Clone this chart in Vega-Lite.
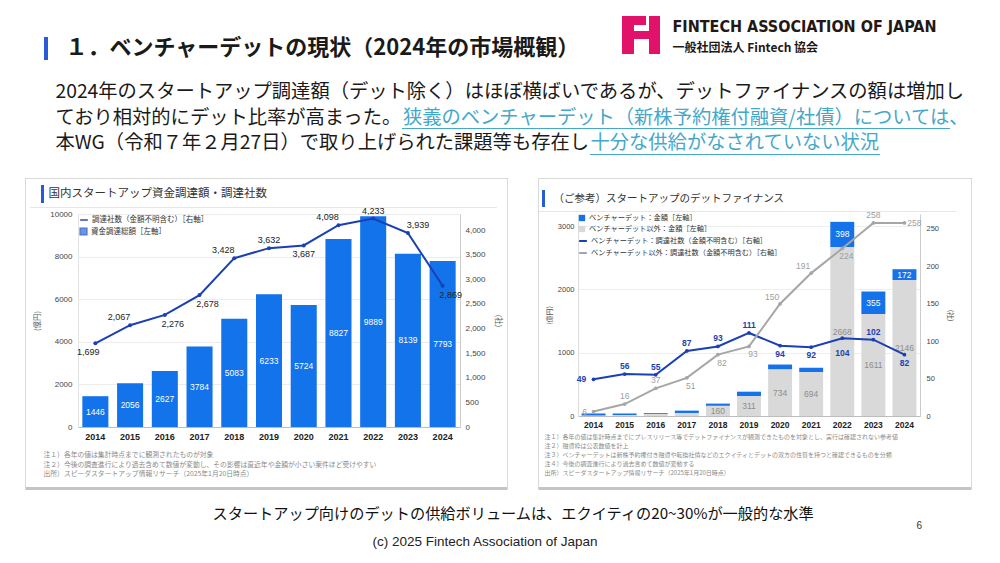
{
"$schema":"https://vega.github.io/schema/vega-lite/v6.json",
"background":"white","padding":0,
"config":{"view":{"stroke":null},"font":"Noto Sans CJK JP","concat":{"spacing":0},"axis":{"labelFont":"Liberation Sans","titleFont":"Noto Sans CJK JP"},"legend":{"labelFont":"Noto Sans CJK JP","labelLimit":300,"layout":{"top-left":{"direction":"vertical","margin":3}}}},
"bounds":"flush","spacing":0,
"resolve":{"scale":{"color":"independent","fill":"independent","stroke":"independent"},"legend":{"color":"independent","fill":"independent","stroke":"independent"}},
"vconcat":[
 {"hconcat":[
  {"width":44,"height":68,"data":{"values":[{}]},"mark":{"type":"text","opacity":0}},
  {"vconcat":[
    {"width":4,"height":37,"data":{"values":[{}]},"mark":{"type":"text","opacity":0}},
    {"width":4,"height":23,"data":{"values":[{}]},"mark":{"type":"text","opacity":0},"view":{"fill":"#2a5bd7","stroke":null}}
  ],"bounds":"flush","spacing":0},
  {"width":21,"height":30,"data":{"values":[{}]},"mark":{"type":"text","opacity":0}},
  {"vconcat":[
    {"width":1,"height":37,"data":{"values":[{}]},"mark":{"type":"text","opacity":0}},
    {"width":1,"height":22,"data":{"values":[{"t":"１．ベンチャーデットの現状（2024年の市場概観）"}]},"mark":{"type":"text","align":"left","baseline":"middle","fontSize":22,"fontWeight":"bold","color":"#1a1a1a"},"encoding":{"text":{"field":"t","type":"nominal"}}}
  ],"bounds":"flush","spacing":0},
  {"width":557,"height":30,"data":{"values":[{}]},"mark":{"type":"text","opacity":0}},
  {"vconcat":[
    {"width":1,"height":16,"data":{"values":[{}]},"mark":{"type":"text","opacity":0}},
    {"hconcat":[
      {"width":12,"height":38,"data":{"values":[{}]},"mark":{"type":"text","opacity":0},"view":{"fill":"#e2126a","stroke":null}},
      {"vconcat":[
        {"width":12,"height":9,"data":{"values":[{}]},"mark":{"type":"text","opacity":0},"view":{"fill":"#e2126a","stroke":null}},
        {"width":12,"height":6,"data":{"values":[{}]},"mark":{"type":"text","opacity":0}},
        {"width":12,"height":8,"data":{"values":[{}]},"mark":{"type":"text","opacity":0},"view":{"fill":"#e2126a","stroke":null}}
      ],"bounds":"flush","spacing":0},
      {"width":12,"height":30,"data":{"values":[{}]},"mark":{"type":"text","opacity":0}},
      {"vconcat":[
        {"width":3,"height":15,"data":{"values":[{}]},"mark":{"type":"text","opacity":0}},
        {"width":3,"height":8,"data":{"values":[{}]},"mark":{"type":"text","opacity":0},"view":{"fill":"#e2126a","stroke":null}}
      ],"bounds":"flush","spacing":0},
      {"width":3,"height":30,"data":{"values":[{}]},"mark":{"type":"text","opacity":0}},
      {"width":11,"height":38,"data":{"values":[{}]},"mark":{"type":"text","opacity":0},"view":{"fill":"#e2126a","stroke":null}}
    ],"bounds":"flush","spacing":0}
  ],"bounds":"flush","spacing":0},
  {"width":50,"height":30,"data":{"values":[{}]},"mark":{"type":"text","opacity":0}},
  {"vconcat":[
    {"width":1,"height":15,"data":{"values":[{}]},"mark":{"type":"text","opacity":0}},
    {"width":1,"height":24,"data":{"values":[{"t":"FINTECH ASSOCIATION OF JAPAN"}]},"mark":{"type":"text","align":"left","baseline":"middle","fontSize":16,"fontWeight":"bold","font":"'Liberation Sans Narrow','DejaVu Sans Condensed',sans-serif","color":"#231815"},"encoding":{"text":{"field":"t","type":"nominal"}}},
    {"width":1,"height":17,"data":{"values":[{"t":"一般社団法人 Fintech 協会"}]},"mark":{"type":"text","align":"left","baseline":"middle","fontSize":12,"fontWeight":"bold","color":"#231815"},"encoding":{"text":{"field":"t","type":"nominal"}}}
  ],"bounds":"flush","spacing":0}
 ],"bounds":"flush","spacing":0},
 {"width":1,"height":68,"data":{"values":[{}]},"mark":{"type":"text","opacity":0}},
 {"hconcat":[
  {"width":55,"height":30,"data":{"values":[{}]},"mark":{"type":"text","opacity":0}},
  {"vconcat":[
    {"width":1,"height":24,"data":{"values":[{}]},"mark":{"type":"text","opacity":0}},
    {"hconcat":[
     {"width":1,"height":51,
      "data":{"values":[
        {"line":1,"kind":"normal","t":"2024年のスタートアップ調達額（デット除く）はほぼ横ばいであるが、デットファイナンスの額は増加し"},
        {"line":2,"kind":"normal","t":"ており相対的にデット比率が高まった。"},
        {"line":2,"kind":"link","t":"狭義のベンチャーデット（新株予約権付融資/社債）については、"},
        {"line":3,"kind":"normal","t":"本WG（令和７年２月27日）で取り上げられた課題等も存在し"},
        {"line":3,"kind":"link","t":"十分な供給がなされていない状況"}
      ]},
      "encoding":{
        "y":{"field":"line","type":"ordinal","scale":{"type":"point","padding":0},"axis":null},
        "text":{"field":"t","type":"nominal"}
      },
      "layer":[
        {"transform":[{"filter":"datum.kind == 'normal'"}],"mark":{"type":"text","align":"left","baseline":"middle","fontSize":19.3,"color":"#1a1a1a"}},
        {"transform":[{"filter":"datum.kind == 'link' && datum.line == 2"}],"mark":{"type":"text","align":"left","baseline":"middle","fontSize":19.3,"color":"#45a8c8","dx":347.4}},
        {"transform":[{"filter":"datum.kind == 'link' && datum.line == 3"}],"mark":{"type":"text","align":"left","baseline":"middle","fontSize":19.3,"color":"#45a8c8","dx":535}}
      ]}
    ],"bounds":"flush","spacing":0},
    {"width":1,"height":36,"data":{"values":[{}]},"mark":{"type":"text","opacity":0}},
    {"hconcat":[
      {"width":347,"height":1,"data":{"values":[{}]},"mark":{"type":"text","opacity":0}},
      {"width":548,"height":1,"data":{"values":[{}]},"mark":{"type":"text","opacity":0},"view":{"fill":"#45a8c8","stroke":null}}
    ],"bounds":"flush","spacing":0},
    {"width":1,"height":26,"data":{"values":[{}]},"mark":{"type":"text","opacity":0}},
    {"hconcat":[
      {"width":535,"height":1,"data":{"values":[{}]},"mark":{"type":"text","opacity":0}},
      {"width":290,"height":1,"data":{"values":[{}]},"mark":{"type":"text","opacity":0},"view":{"fill":"#45a8c8","stroke":null}}
    ],"bounds":"flush","spacing":0}
  ],"bounds":"flush","spacing":0}
 ],"bounds":"flush","spacing":0},
 {"width":1,"height":110,"data":{"values":[{}]},"mark":{"type":"text","opacity":0}},
 {"hconcat":[
  {"width":25,"height":30,"data":{"values":[{}]},"mark":{"type":"text","opacity":0}},
  {"vconcat":[
    {"width":483,"height":1,"data":{"values":[{}]},"mark":{"type":"text","opacity":0},"view":{"fill":"#d9d9d9","stroke":null}},
    {"width":1,"height":6,"data":{"values":[{}]},"mark":{"type":"text","opacity":0}},
    {"hconcat":[
      {"width":16,"height":18,"data":{"values":[{}]},"mark":{"type":"text","opacity":0}},
      {"width":3,"height":18,"data":{"values":[{}]},"mark":{"type":"text","opacity":0},"view":{"fill":"#2a5bd7","stroke":null}},
      {"width":4,"height":18,"data":{"values":[{}]},"mark":{"type":"text","opacity":0}},
      {"width":1,"height":18,"data":{"values":[{"t":"国内スタートアップ資金調達額・調達社数"}]},"mark":{"type":"text","align":"left","baseline":"middle","fontSize":11.5,"color":"#333333"},"encoding":{"text":{"field":"t","type":"nominal"}}}
    ],"bounds":"flush","spacing":0},
    {"width":1,"height":22,"data":{"values":[{}]},"mark":{"type":"text","opacity":0}},
    {"hconcat":[
      {"width":5,"height":1,"data":{"values":[{}]},"mark":{"type":"text","opacity":0}},
      {"width":467,"height":1,"data":{"values":[{}]},"mark":{"type":"text","opacity":0},"view":{"fill":"#e6e6e6","stroke":null}}
    ],"bounds":"flush","spacing":0},
    {"width":1,"height":7,"data":{"values":[{}]},"mark":{"type":"text","opacity":0}},
    {"hconcat":[
      {"width":53,"height":1,"data":{"values":[{}]},"mark":{"type":"text","opacity":0}},
      {"width":382,"height":213,
       "data":{"values":[
         {"year":2014,"amt":1446,"cnt":1699},{"year":2015,"amt":2056,"cnt":2067},{"year":2016,"amt":2627,"cnt":2276},
         {"year":2017,"amt":3784,"cnt":2678},{"year":2018,"amt":5083,"cnt":3428},{"year":2019,"amt":6233,"cnt":3632},
         {"year":2020,"amt":5724,"cnt":3687},{"year":2021,"amt":8827,"cnt":4098},{"year":2022,"amt":9889,"cnt":4233},
         {"year":2023,"amt":8139,"cnt":3939},{"year":2024,"amt":7793,"cnt":2869}]},
       "encoding":{"x":{"field":"year","type":"ordinal","scale":{"paddingInner":0.25,"paddingOuter":0.125},
         "axis":{"title":null,"labelAngle":0,"ticks":false,"labelPadding":5,"labelFontSize":9,"labelFontWeight":"bold","labelColor":"#222222","domainColor":"#bdbdbd"}}},
       "layer":[
         {"transform":[{"filter":"false"}],
          "mark":{"type":"point","filled":false},
          "encoding":{
            "color":{"datum":"調達社数（金額不明含む）［右軸］","type":"nominal",
              "legend":{"orient":"top-left","title":null,"symbolType":"stroke","symbolStrokeWidth":2,"symbolSize":60,"offset":1,"padding":0,"labelFontSize":7.5,"labelColor":"#333333","labelOffset":3}},
            "fill":{"datum":"資金調達総額［左軸］","type":"nominal",
              "legend":{"orient":"top-left","title":null,"symbolType":"square","symbolSize":45,"offset":1,"padding":0,"labelFontSize":7.5,"labelColor":"#333333","labelOffset":3}}}},
         {"layer":[
           {"mark":{"type":"bar"},
            "encoding":{
              "y":{"field":"amt","type":"quantitative","scale":{"domain":[0,10000],"nice":false},
                "axis":{"title":"(億円)","values":[0,2000,4000,6000,8000,10000],"format":"d","ticks":false,"labelFontSize":8,"labelColor":"#444444","labelPadding":6,"domainColor":"#e3e3e3","gridColor":"#ececec","titleFontSize":7.5,"titleFontWeight":"normal","titleColor":"#555555","titlePadding":8}},
              "fill":{"datum":"資金調達総額［左軸］","type":"nominal","scale":{"range":["#1273ea"]}}}},
           {"transform":[{"calculate":"datum.amt/2","as":"mid"}],
            "mark":{"type":"text","color":"white","fontSize":8.5,"font":"Liberation Sans"},
            "encoding":{"y":{"field":"mid","type":"quantitative"},"text":{"field":"amt","type":"quantitative","format":"d"}}}
         ]},
         {"encoding":{"y":{"field":"cnt","type":"quantitative","scale":{"domain":[0,4325],"nice":false},
                "axis":{"orient":"right","title":"(社)","values":[0,500,1000,1500,2000,2500,3000,3500,4000],"format":",d","grid":false,"ticks":false,"labelFontSize":8,"labelColor":"#444444","labelPadding":5,"domainColor":"#cccccc","titleFontSize":7.5,"titleFontWeight":"normal","titleColor":"#555555","titlePadding":8}},
                "text":{"field":"cnt","type":"quantitative","format":",d"}},
          "layer":[
           {"mark":{"type":"line","strokeWidth":2,"point":{"filled":true,"size":16}},
            "encoding":{
              "text":null,
              "color":{"datum":"調達社数（金額不明含む）［右軸］","type":"nominal","scale":{"range":["#1b3fb5"]}}}},
           {"transform":[{"filter":{"field":"year","oneOf":[2015,2018,2021]}}],"mark":{"type":"text","dx":-11,"dy":-8,"fontSize":9,"font":"Liberation Sans","color":"#222222"}},
           {"transform":[{"filter":{"field":"year","oneOf":[2019,2022]}}],"mark":{"type":"text","dy":-8,"fontSize":9,"font":"Liberation Sans","color":"#222222"}},
           {"transform":[{"filter":{"field":"year","oneOf":[2023]}}],"mark":{"type":"text","dx":10,"dy":-8,"fontSize":9,"font":"Liberation Sans","color":"#222222"}},
           {"transform":[{"filter":{"field":"year","oneOf":[2014]}}],"mark":{"type":"text","dx":-7,"dy":9,"fontSize":9,"font":"Liberation Sans","color":"#222222"}},
           {"transform":[{"filter":{"field":"year","oneOf":[2016,2017,2024]}}],"mark":{"type":"text","dx":8,"dy":9,"fontSize":9,"font":"Liberation Sans","color":"#222222"}},
           {"transform":[{"filter":{"field":"year","oneOf":[2020]}}],"mark":{"type":"text","dy":9,"fontSize":9,"font":"Liberation Sans","color":"#222222"}}
         ]}
       ],
       "resolve":{"scale":{"y":"independent"}}}
    ],"bounds":"flush","spacing":0,
    "resolve":{"scale":{"color":"independent","fill":"independent","stroke":"independent"},"legend":{"color":"independent","fill":"independent","stroke":"independent"}}},
    {"width":1,"height":241,"data":{"values":[{}]},"mark":{"type":"text","opacity":0}},
    {"hconcat":[
      {"width":18,"height":1,"data":{"values":[{}]},"mark":{"type":"text","opacity":0}},
      {"width":1,"height":19,
       "data":{"values":[
         {"n":1,"t":"注１）各年の値は集計時点までに観測されたものが対象"},
         {"n":2,"t":"注２）今後の調査進行により過去含めて数値が変動し、その影響は直近年や金額が小さい案件ほど受けやすい"},
         {"n":3,"t":"出所）スピーダスタートアップ情報リサーチ（2025年1月20日時点）"}]},
       "mark":{"type":"text","align":"left","baseline":"middle","fontSize":6.8,"color":"#8a8a8a"},
       "encoding":{"y":{"field":"n","type":"ordinal","scale":{"type":"point","padding":0},"axis":null},"text":{"field":"t","type":"nominal"}}}
    ],"bounds":"flush","spacing":0},
    {"width":1,"height":32,"data":{"values":[{}]},"mark":{"type":"text","opacity":0}},
    {"width":483,"height":3,"data":{"values":[{}]},"mark":{"type":"text","opacity":0},"view":{"fill":"#c4c4c4","stroke":null}}
  ],"bounds":"flush","spacing":0,
  "resolve":{"scale":{"color":"independent","fill":"independent","stroke":"independent"},"legend":{"color":"independent","fill":"independent","stroke":"independent"}}},
  {"width":1,"height":312,"data":{"values":[{}]},"mark":{"type":"text","opacity":0},"view":{"fill":"#d9d9d9","stroke":null}},
  {"width":481,"height":30,"data":{"values":[{}]},"mark":{"type":"text","opacity":0}},
  {"width":1,"height":312,"data":{"values":[{}]},"mark":{"type":"text","opacity":0},"view":{"fill":"#d9d9d9","stroke":null}},
  {"width":30,"height":30,"data":{"values":[{}]},"mark":{"type":"text","opacity":0}},
  {"vconcat":[
    {"width":434,"height":1,"data":{"values":[{}]},"mark":{"type":"text","opacity":0},"view":{"fill":"#d9d9d9","stroke":null}},
    {"width":1,"height":11,"data":{"values":[{}]},"mark":{"type":"text","opacity":0}},
    {"hconcat":[
      {"width":4,"height":17,"data":{"values":[{}]},"mark":{"type":"text","opacity":0}},
      {"width":3,"height":17,"data":{"values":[{}]},"mark":{"type":"text","opacity":0},"view":{"fill":"#2a5bd7","stroke":null}},
      {"width":8,"height":17,"data":{"values":[{}]},"mark":{"type":"text","opacity":0}},
      {"width":1,"height":17,"data":{"values":[{"t":"（ご参考）スタートアップのデットファイナンス"}]},"mark":{"type":"text","align":"left","baseline":"middle","fontSize":10.5,"color":"#333333"},"encoding":{"text":{"field":"t","type":"nominal"}}}
    ],"bounds":"flush","spacing":0},
    {"width":1,"height":21,"data":{"values":[{}]},"mark":{"type":"text","opacity":0}},
    {"width":418,"height":1,"data":{"values":[{}]},"mark":{"type":"text","opacity":0},"view":{"fill":"#e6e6e6","stroke":null}},
    {"width":1,"height":2,"data":{"values":[{}]},"mark":{"type":"text","opacity":0}},
    {"hconcat":[
      {"width":40,"height":1,"data":{"values":[{}]},"mark":{"type":"text","opacity":0}},
      {"width":342,"height":202,
       "data":{"values":[
         {"year":2014,"vd":35,"nvd":5,"vdn":49,"nvdn":6},
         {"year":2015,"vd":30,"nvd":10,"vdn":56,"nvdn":16},
         {"year":2016,"vd":15,"nvd":30,"vdn":55,"nvdn":37},
         {"year":2017,"vd":40,"nvd":45,"vdn":87,"nvdn":51},
         {"year":2018,"vd":36,"nvd":160,"vdn":93,"nvdn":82},
         {"year":2019,"vd":73,"nvd":311,"vdn":111,"nvdn":93},
         {"year":2020,"vd":79,"nvd":734,"vdn":94,"nvdn":150},
         {"year":2021,"vd":68,"nvd":694,"vdn":92,"nvdn":191},
         {"year":2022,"vd":398,"nvd":2668,"vdn":104,"nvdn":224},
         {"year":2023,"vd":355,"nvd":1611,"vdn":102,"nvdn":258},
         {"year":2024,"vd":172,"nvd":2146,"vdn":82,"nvdn":258}]},
       "encoding":{"x":{"field":"year","type":"ordinal","scale":{"paddingInner":0.23,"paddingOuter":0.115},
         "axis":{"title":null,"labelAngle":0,"ticks":false,"labelPadding":4,"labelFontSize":8.5,"labelFontWeight":"bold","labelColor":"#222222","domainColor":"#bdbdbd"}}},
       "layer":[
         {"layer":[
           {"transform":[{"fold":["vd","nvd"],"as":["series","amount"]}],
            "mark":{"type":"bar"},
            "encoding":{
              "y":{"field":"amount","type":"quantitative","stack":"zero","scale":{"domain":[0,3190],"nice":false},
                "axis":{"title":"(億円)","values":[0,500,1000,1500,2000,2500,3000],"format":"d","ticks":false,"labelFontSize":7.5,"labelColor":"#444444","labelPadding":4,"domainColor":"#dddddd","gridColor":"#eeeeee","titleFontSize":7,"titleFontWeight":"normal","titleColor":"#555555","titlePadding":5}},
              "color":{"field":"series","type":"nominal","scale":{"domain":["vd","nvd"],"range":["#1473ea","#d9d9d9"]},
                "legend":{"orient":"top-left","title":null,"symbolType":"square","symbolSize":40,"offset":0,"padding":0,"labelFontSize":7.2,"labelColor":"#333333","labelOffset":3,"rowPadding":3,
                  "labelExpr":"datum.value == 'vd' ? 'ベンチャーデット：金額［左軸］' : 'ベンチャーデット以外：金額［左軸］'"}},
              "order":{"field":"series","sort":"ascending"}}},
           {"transform":[{"filter":"datum.nvd >= 100"},{"calculate":"datum.nvd/2","as":"gmid"}],
            "mark":{"type":"text","color":"#8c8c8c","fontSize":8.5,"font":"Liberation Sans"},
            "encoding":{"y":{"field":"gmid","type":"quantitative"},"text":{"field":"nvd","type":"quantitative","format":"d"}}},
           {"transform":[{"filter":"datum.vd >= 150"},{"calculate":"datum.nvd + datum.vd/2","as":"bmid"}],
            "mark":{"type":"text","color":"white","fontSize":8.5,"font":"Liberation Sans"},
            "encoding":{"y":{"field":"bmid","type":"quantitative"},"text":{"field":"vd","type":"quantitative","format":"d"}}}
         ]},
         {"layer":[
           {"transform":[{"fold":["vdn","nvdn"],"as":["cseries","count"]}],
            "mark":{"type":"line","strokeWidth":2},
            "encoding":{
              "y":{"field":"count","type":"quantitative","scale":{"domain":[0,270],"nice":false},
                "axis":{"orient":"right","title":"(社)","values":[0,50,100,150,200,250],"grid":false,"ticks":false,"labelFontSize":7.5,"labelColor":"#444444","labelPadding":6,"domainColor":"#cccccc","titleFontSize":7,"titleFontWeight":"normal","titleColor":"#555555","titlePadding":8}},
              "stroke":{"field":"cseries","type":"nominal","scale":{"domain":["vdn","nvdn"],"range":["#1b3fb5","#a6a6a6"]},
                "legend":{"orient":"top-left","title":null,"symbolType":"stroke","symbolStrokeWidth":2,"symbolSize":60,"offset":0,"padding":0,"labelFontSize":7.2,"labelColor":"#333333","labelOffset":3,"rowPadding":3,
                  "labelExpr":"datum.value == 'vdn' ? 'ベンチャーデット：調達社数（金額不明含む）［右軸］' : 'ベンチャーデット以外：調達社数（金額不明含む）［右軸］'"}}}},
           {"transform":[{"fold":["vdn","nvdn"],"as":["cseries","count"]}],
            "mark":{"type":"point","filled":true,"size":14,"opacity":1},
            "encoding":{"y":{"field":"count","type":"quantitative"},
              "fill":{"field":"cseries","type":"nominal","scale":{"domain":["vdn","nvdn"],"range":["#1b3fb5","#a6a6a6"]},"legend":null}}},
           {"transform":[{"filter":{"field":"year","oneOf":[2014]}}],"mark":{"type":"text","dx":-12,"fontSize":8.5,"fontWeight":"bold","font":"Liberation Sans","color":"#1b3fb5"},"encoding":{"y":{"field":"vdn","type":"quantitative"},"text":{"field":"vdn","type":"quantitative"}}},
           {"transform":[{"filter":{"field":"year","oneOf":[2015,2016,2017,2018,2019,2023]}}],"mark":{"type":"text","dy":-8,"fontSize":8.5,"fontWeight":"bold","font":"Liberation Sans","color":"#1b3fb5"},"encoding":{"y":{"field":"vdn","type":"quantitative"},"text":{"field":"vdn","type":"quantitative"}}},
           {"transform":[{"filter":{"field":"year","oneOf":[2020,2021,2024]}}],"mark":{"type":"text","dy":8,"fontSize":8.5,"fontWeight":"bold","font":"Liberation Sans","color":"#1b3fb5"},"encoding":{"y":{"field":"vdn","type":"quantitative"},"text":{"field":"vdn","type":"quantitative"}}},
           {"transform":[{"filter":{"field":"year","oneOf":[2022]}}],"mark":{"type":"text","dy":15,"fontSize":8.5,"fontWeight":"bold","font":"Liberation Sans","color":"#1b3fb5"},"encoding":{"y":{"field":"vdn","type":"quantitative"},"text":{"field":"vdn","type":"quantitative"}}},
           {"transform":[{"filter":{"field":"year","oneOf":[2014]}}],"mark":{"type":"text","dx":-9,"fontSize":8.5,"font":"Liberation Sans","color":"#9e9e9e"},"encoding":{"y":{"field":"nvdn","type":"quantitative"},"text":{"field":"nvdn","type":"quantitative"}}},
           {"transform":[{"filter":{"field":"year","oneOf":[2015,2016,2023]}}],"mark":{"type":"text","dy":-8,"fontSize":8.5,"font":"Liberation Sans","color":"#9e9e9e"},"encoding":{"y":{"field":"nvdn","type":"quantitative"},"text":{"field":"nvdn","type":"quantitative"}}},
           {"transform":[{"filter":{"field":"year","oneOf":[2017,2018,2019,2022]}}],"mark":{"type":"text","dx":4,"dy":8,"fontSize":8.5,"font":"Liberation Sans","color":"#9e9e9e"},"encoding":{"y":{"field":"nvdn","type":"quantitative"},"text":{"field":"nvdn","type":"quantitative"}}},
           {"transform":[{"filter":{"field":"year","oneOf":[2020,2021]}}],"mark":{"type":"text","dx":-8,"dy":-7,"fontSize":8.5,"font":"Liberation Sans","color":"#9e9e9e"},"encoding":{"y":{"field":"nvdn","type":"quantitative"},"text":{"field":"nvdn","type":"quantitative"}}},
           {"transform":[{"filter":{"field":"year","oneOf":[2024]}}],"mark":{"type":"text","dx":10,"fontSize":8.5,"font":"Liberation Sans","color":"#9e9e9e"},"encoding":{"y":{"field":"nvdn","type":"quantitative"},"text":{"field":"nvdn","type":"quantitative"}}}
         ]}
       ],
       "resolve":{"scale":{"y":"independent"}}}
    ],"bounds":"flush","spacing":0,
    "resolve":{"scale":{"color":"independent","fill":"independent","stroke":"independent"},"legend":{"color":"independent","fill":"independent","stroke":"independent"}}},
    {"width":1,"height":223,"data":{"values":[{}]},"mark":{"type":"text","opacity":0}},
    {"hconcat":[
      {"width":6,"height":1,"data":{"values":[{}]},"mark":{"type":"text","opacity":0}},
      {"width":1,"height":36,
       "data":{"values":[
         {"n":1,"t":"注１）各年の値は集計時点までにプレスリリース等でデットファイナンスが観測できたものを対象とし、実行は確認されない参考値"},
         {"n":2,"t":"注２）融資枠は公表数値を計上"},
         {"n":3,"t":"注３）ベンチャーデットは新株予約権付き融資や転換社債などのエクイティとデットの双方の性質を持つと確認できるものを分類"},
         {"n":4,"t":"注４）今後の調査進行により過去含めて数値が変動する"},
         {"n":5,"t":"出所）スピーダスタートアップ情報リサーチ（2025年1月20日時点）"}]},
       "mark":{"type":"text","align":"left","baseline":"middle","fontSize":6,"color":"#8a8a8a"},
       "encoding":{"y":{"field":"n","type":"ordinal","scale":{"type":"point","padding":0},"axis":null},"text":{"field":"t","type":"nominal"}}}
    ],"bounds":"flush","spacing":0},
    {"width":1,"height":50,"data":{"values":[{}]},"mark":{"type":"text","opacity":0}},
    {"width":434,"height":3,"data":{"values":[{}]},"mark":{"type":"text","opacity":0},"view":{"fill":"#c4c4c4","stroke":null}}
  ],"bounds":"flush","spacing":0,
  "resolve":{"scale":{"color":"independent","fill":"independent","stroke":"independent"},"legend":{"color":"independent","fill":"independent","stroke":"independent"}}},
  {"width":1,"height":312,"data":{"values":[{}]},"mark":{"type":"text","opacity":0},"view":{"fill":"#d9d9d9","stroke":null}},
  {"width":432,"height":30,"data":{"values":[{}]},"mark":{"type":"text","opacity":0}},
  {"width":1,"height":312,"data":{"values":[{}]},"mark":{"type":"text","opacity":0},"view":{"fill":"#d9d9d9","stroke":null}}
 ],"bounds":"flush","spacing":0,
 "resolve":{"scale":{"color":"independent","fill":"independent","stroke":"independent"},"legend":{"color":"independent","fill":"independent","stroke":"independent"}}},
 {"width":1,"height":313,"data":{"values":[{}]},"mark":{"type":"text","opacity":0}},
 {"vconcat":[
  {"width":1,"height":22,"data":{"values":[{}]},"mark":{"type":"text","opacity":0}},
  {"hconcat":[
    {"width":212,"height":1,"data":{"values":[{}]},"mark":{"type":"text","opacity":0}},
    {"width":1,"height":1,"data":{"values":[{"t":"スタートアップ向けのデットの供給ボリュームは、エクイティの20~30%が一般的な水準"}]},"mark":{"type":"text","align":"left","baseline":"middle","fontSize":15.2,"color":"#111111"},"encoding":{"text":{"field":"t","type":"nominal"}}}
  ],"bounds":"flush","spacing":0},
  {"width":1,"height":12,"data":{"values":[{}]},"mark":{"type":"text","opacity":0}},
  {"hconcat":[
    {"width":916,"height":1,"data":{"values":[{}]},"mark":{"type":"text","opacity":0}},
    {"width":1,"height":1,"data":{"values":[{"t":"6"}]},"mark":{"type":"text","align":"left","baseline":"middle","fontSize":10,"font":"Liberation Sans","color":"#333333"},"encoding":{"text":{"field":"t","type":"nominal"}}}
  ],"bounds":"flush","spacing":0},
  {"width":1,"height":16,"data":{"values":[{}]},"mark":{"type":"text","opacity":0}},
  {"hconcat":[
    {"width":372,"height":1,"data":{"values":[{}]},"mark":{"type":"text","opacity":0}},
    {"width":1,"height":1,"data":{"values":[{"t":"(c) 2025 Fintech Association of Japan"}]},"mark":{"type":"text","align":"left","baseline":"middle","fontSize":13.5,"font":"Liberation Sans","color":"#222222"},"encoding":{"text":{"field":"t","type":"nominal"}}}
  ],"bounds":"flush","spacing":0},
  {"width":1,"height":20,"data":{"values":[{}]},"mark":{"type":"text","opacity":0}}
 ],"bounds":"flush","spacing":0}
]
}
